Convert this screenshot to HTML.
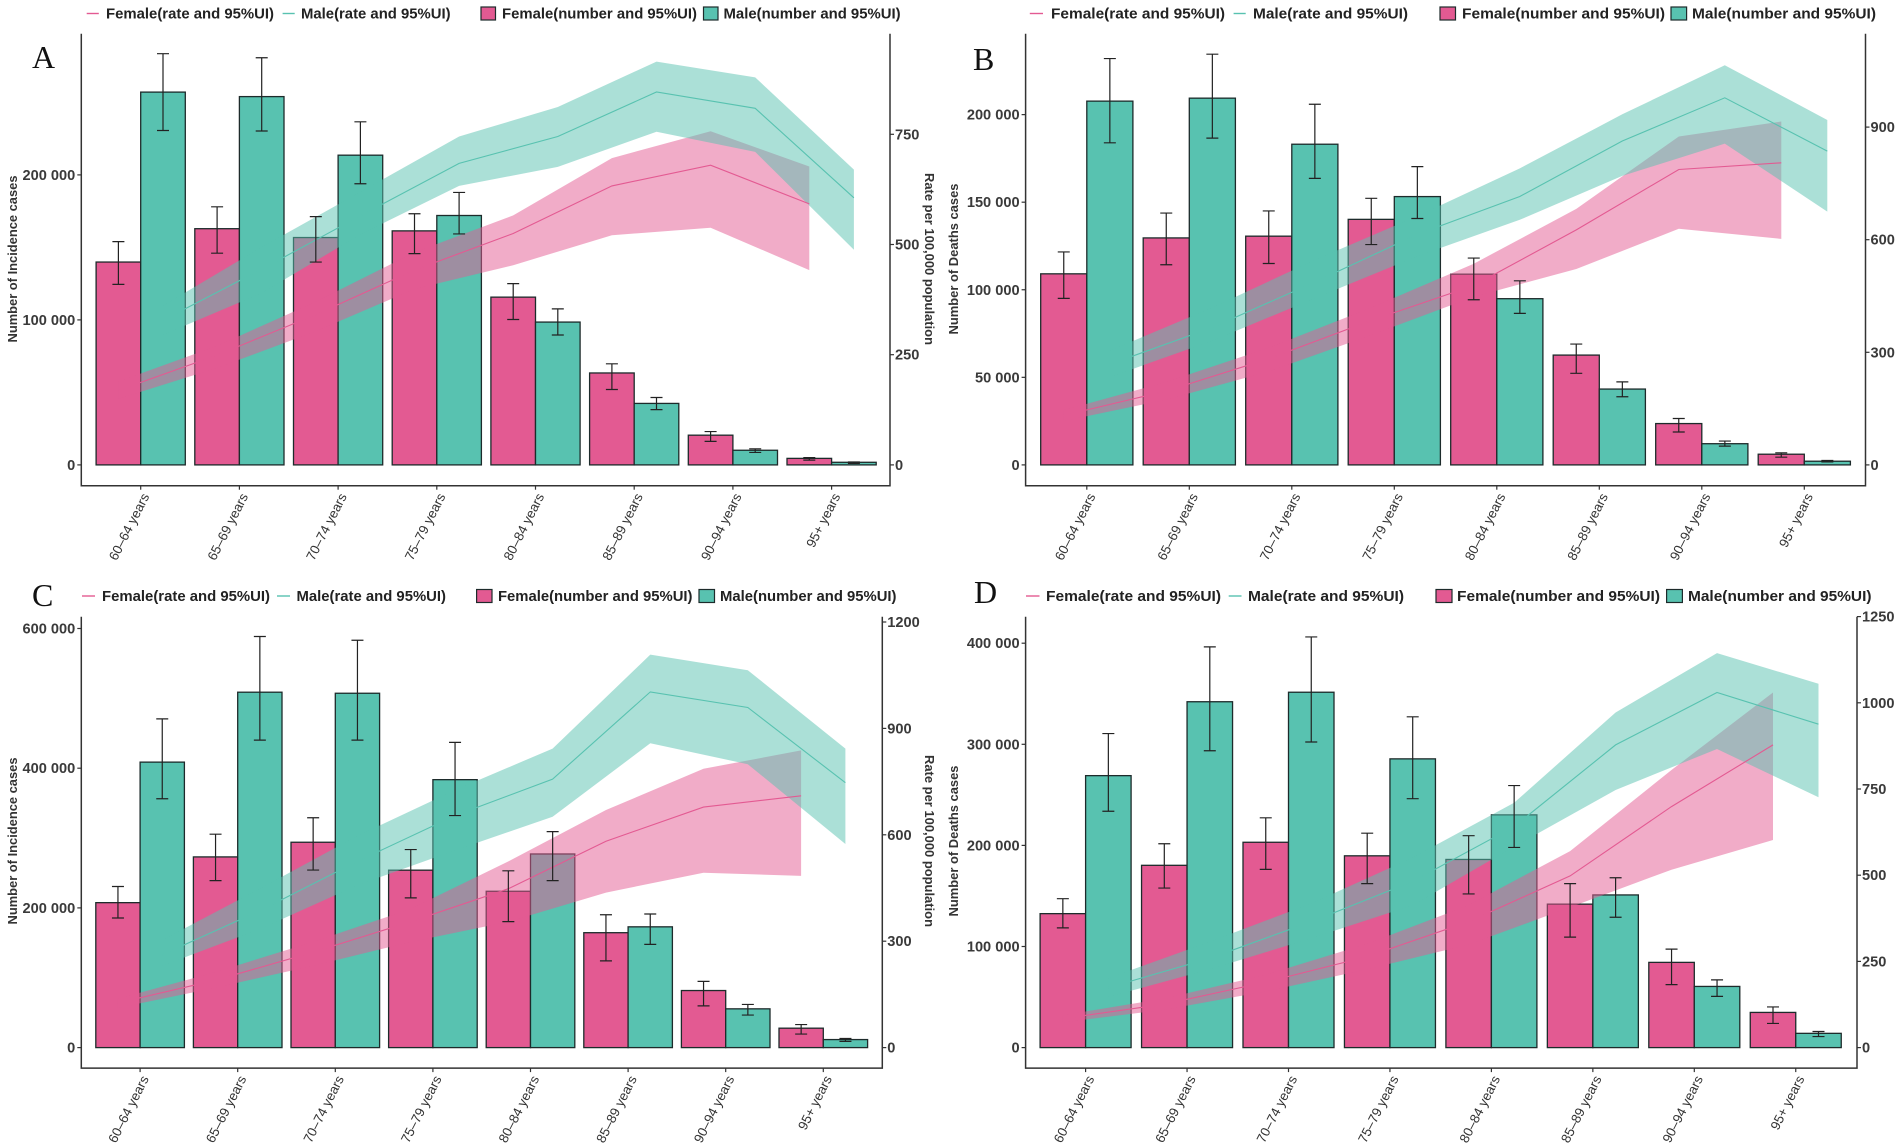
<!DOCTYPE html>
<html lang="en">
<head>
<meta charset="utf-8">
<title>Incidence and deaths by age group</title>
<style>
html,body{margin:0;padding:0;background:#fff;width:1902px;height:1148px;overflow:hidden}
svg{display:block}
text{font-family:"Liberation Sans",sans-serif}
.tick{font-size:14.6px;font-weight:700;fill:#3a3a3a}
.cat{font-size:13.3px;fill:#333}
.title{font-size:13px;font-weight:700;fill:#333}
.leg{font-size:14.8px;font-weight:700;fill:#222}
.letter{font-family:"Liberation Serif",serif;font-size:32px;fill:#111}
</style>
</head>
<body>
<svg id="figure" xmlns="http://www.w3.org/2000/svg" width="1902" height="1148" viewBox="0 0 1902 1148">
  <rect width="1902" height="1148" fill="#fff"/>
  <g id="panel-a"></g>
  <g id="panel-b"></g>
  <g id="panel-c"></g>
  <g id="panel-d"></g>
</svg>
<script>
const categories = ["60–64 years","65–69 years","70–74 years","75–79 years","80–84 years","85–89 years","90–94 years","95+ years"];

/* Panel A */
const aLeftTicks = [0,100000,200000];
const aRightTicks = [0,250,500,750];
const aFemaleNumber = [139900,162900,156800,161400,115700,63400,20500,4500];
const aFemaleNumberUpper = [154000,178000,171200,173200,125000,69700,23000,5000];
const aFemaleNumberLower = [124500,146000,139900,145700,100300,52000,16200,3300];
const aMaleNumber = [257100,254000,213600,172000,98500,42400,10100,1800];
const aMaleNumberUpper = [283600,280800,236600,187900,107600,46500,11100,2000];
const aMaleNumberLower = [230600,230300,193900,159300,89600,38100,8600,1000];
const aFemaleRate = [169,249,341,442,525,633,680,592];
const aFemaleRateUpper = [189,270,370,482,566,696,757,677];
const aFemaleRateLower = [150,220,303,399,453,521,538,442];
const aMaleRate = [328,444,565,684,745,846,809,606];
const aMaleRateUpper = [361,494,619,745,812,915,879,670];
const aMaleRateLower = [295,390,523,633,676,756,710,488];

/* Panel B */
const bLeftTicks = [0,50000,100000,150000,200000];
const bRightTicks = [0,300,600,900];
const bFemaleNumber = [109100,129600,130600,140200,108900,62700,23600,6100];
const bFemaleNumberUpper = [121600,143800,145000,152200,118100,69000,26500,6900];
const bFemaleNumberLower = [95100,114300,115000,125800,94300,52300,18800,4400];
const bMaleNumber = [207700,209400,183100,153200,94900,43300,12100,2100];
const bMaleNumberUpper = [232000,234500,205900,170300,105100,47400,13600,2500];
const bMaleNumberLower = [183900,186600,163600,140700,86500,38900,10700,1700];
const bFemaleRate = [132,197,283,385,478,626,787,805];
const bFemaleRateUpper = [146,221,312,419,536,682,875,915];
const bFemaleRateLower = [117,174,249,346,448,522,629,602];
const bMaleRate = [268,366,487,614,715,863,978,836];
const bMaleRateUpper = [304,419,546,663,790,934,1065,919];
const bMaleRateLower = [234,331,444,556,653,770,856,675];

/* Panel C */
const cLeftTicks = [0,200000,400000,600000];
const cRightTicks = [0,300,600,900,1200];
const cFemaleNumber = [207500,273000,294000,254000,223800,164500,81700,27800];
const cFemaleNumberUpper = [230600,305500,329100,283500,253100,190200,94800,33000];
const cFemaleNumberLower = [185500,239000,254200,214300,180300,124200,59700,19400];
const cMaleNumber = [408700,508800,507300,383600,277200,172900,55500,11500];
const cMaleNumberUpper = [470600,588500,583200,437000,309200,191300,61800,13100];
const cMaleNumberLower = [356300,440200,440200,332200,239000,147800,46600,8900];
const cFemaleRate = [126,190,269,355,448,582,678,710];
const cFemaleRateUpper = [138,213,298,391,525,670,786,838];
const cFemaleRateLower = [112,169,231,298,355,437,493,484];
const cMaleRate = [262,386,525,654,757,1003,959,747];
const cMaleRateUpper = [303,448,597,726,843,1108,1064,843];
const cMaleRateLower = [231,334,458,556,651,858,799,574];

/* Panel D */
const dLeftTicks = [0,100000,200000,300000,400000];
const dRightTicks = [0,250,500,750,1000,1250];
const dFemaleNumber = [132500,180300,203100,189700,186100,141900,84300,34800];
const dFemaleNumberUpper = [147300,201600,227300,212100,209600,162200,97400,40200];
const dFemaleNumberLower = [118400,157800,176300,162200,152000,109300,62300,23900];
const dMaleNumber = [269000,342100,351500,285600,230200,151000,60500,14100];
const dMaleNumberUpper = [310600,396400,406200,327200,259200,168000,67000,15900];
const dMaleNumberLower = [233800,293600,302300,246200,198000,128900,50700,10900];
const dFemaleRate = [84,126,190,264,365,498,699,878];
const dFemaleRateUpper = [94,142,211,301,413,570,805,1030];
const dFemaleRateLower = [73,110,163,227,299,407,516,602];
const dMaleRate = [174,259,365,482,641,878,1030,938];
const dMaleRateUpper = [201,307,418,551,710,972,1144,1055];
const dMaleRateLower = [147,227,317,413,583,747,866,726];

const PINK = "#E35A92", TEAL = "#58C2B0";
const SVGNS = "http://www.w3.org/2000/svg";

function make(tag, attrs, parent, txt) {
  const n = document.createElementNS(SVGNS, tag);
  for (const k in attrs) n.setAttribute(k, attrs[k]);
  if (txt !== undefined) n.textContent = txt;
  parent.appendChild(n);
  return n;
}
function formatThousands(v) {
  return String(v).replace(/\B(?=(\d{3})+$)/g, " ");
}

function drawPanel(p) {
  const g = document.getElementById(p.id);
  const catX = i => p.catStart + p.step * i;
  const femaleX = i => catX(i) - p.barW / 2;
  const maleX = i => catX(i) + p.barW / 2;
  const yLeft = v => p.zero - v * p.leftPx;
  const yRight = v => p.zero - v * p.rightPx;

  /* bars */
  const bars = [
    {key: "female", vals: p.femaleNumber, x: femaleX, fill: PINK},
    {key: "male", vals: p.maleNumber, x: maleX, fill: TEAL}
  ];
  bars.forEach(s => {
    s.vals.forEach((v, i) => {
      const bar = make("rect", {x: s.x(i) - p.barW / 2, y: yLeft(v), width: p.barW, height: p.zero - yLeft(v), fill: s.fill, stroke: "#1d2b2b", "stroke-width": 1.3}, g);
      
      
    });
  });

  /* ribbons: same hue as the bars, so each disappears over its own bars */
  const ribbons = [
    {key: "female", up: p.femaleUp, lo: p.femaleLo, x: femaleX, fill: PINK},
    {key: "male", up: p.maleUp, lo: p.maleLo, x: maleX, fill: TEAL}
  ];
  ribbons.forEach(r => {
    const pts = [];
    r.up.forEach((v, i) => pts.push(r.x(i).toFixed(1) + "," + yRight(v).toFixed(1)));
    for (let i = r.lo.length - 1; i >= 0; i--) pts.push(r.x(i).toFixed(1) + "," + yRight(r.lo[i]).toFixed(1));
    const ribbon = make("polygon", {points: pts.join(" "), fill: r.fill, "fill-opacity": 0.5}, g);
    
    
  });

  /* rate lines */
  const lines = [
    {key: "female", vals: p.femaleRate, x: femaleX, stroke: PINK},
    {key: "male", vals: p.maleRate, x: maleX, stroke: TEAL}
  ];
  lines.forEach(l => {
    const pts = l.vals.map((v, i) => l.x(i).toFixed(1) + "," + yRight(v).toFixed(1)).join(" ");
    const line = make("polyline", {points: pts, fill: "none", stroke: l.stroke, "stroke-width": 1.1}, g);
    
    
  });

  /* error bars */
  const errs = [
    {key: "female", up: p.femaleNumUp, lo: p.femaleNumLo, x: femaleX},
    {key: "male", up: p.maleNumUp, lo: p.maleNumLo, x: maleX}
  ];
  errs.forEach(e => {
    e.up.forEach((v, i) => {
      const cx = e.x(i), yu = yLeft(v), yl = yLeft(e.lo[i]);
      const d = "M" + (cx - 6) + " " + yu + "H" + (cx + 6) + "M" + cx + " " + yu + "V" + yl + "M" + (cx - 6) + " " + yl + "H" + (cx + 6);
      const err = make("path", {d: d, fill: "none", stroke: "#222", "stroke-width": 1.2}, g);
      
      
    });
  });

  /* axes */
  const axes = make("path", {d: "M" + p.left + " " + p.top + "V" + p.bottom + "H" + p.right + "V" + p.top, fill: "none", stroke: "#333", "stroke-width": 1.5}, g);
  
  

  p.leftTicks.forEach(v => {
    const mark = make("line", {x1: p.left - 4, x2: p.left, y1: yLeft(v), y2: yLeft(v), stroke: "#333", "stroke-width": 1.2}, g);
    
    
    const label = make("text", {x: p.left - 6, y: yLeft(v) + 5, "text-anchor": "end", class: "tick"}, g, formatThousands(v));
    
    
  });
  p.rightTicks.forEach(v => {
    const mark = make("line", {x1: p.right, x2: p.right + 4, y1: yRight(v), y2: yRight(v), stroke: "#333", "stroke-width": 1.2}, g);
    
    
    const label = make("text", {x: p.right + 5, y: yRight(v) + 5, class: "tick"}, g, String(v));
    
    
  });
  categories.forEach((c, i) => {
    const mark = make("line", {x1: catX(i), x2: catX(i), y1: p.bottom, y2: p.bottom + 4, stroke: "#333", "stroke-width": 1.2}, g);
    
    
    const ax = catX(i) + 9, ay = p.bottom + 10.5;
    const label = make("text", {x: ax, y: ay, "text-anchor": "end", transform: "rotate(-63 " + ax + " " + ay + ")", class: "cat"}, g, c);
    
    
  });

  /* axis titles */
  const yt = make("text", {x: p.titleX, y: p.titleY, "text-anchor": "middle", transform: "rotate(-90 " + p.titleX + " " + p.titleY + ")", class: "title", textLength: p.titleLen, lengthAdjust: "spacingAndGlyphs"}, g, p.yTitle);
  
  
  if (p.rightTitleX) {
    const rt = make("text", {x: p.rightTitleX, y: p.titleY, "text-anchor": "middle", transform: "rotate(90 " + p.rightTitleX + " " + p.titleY + ")", class: "title", textLength: 172, lengthAdjust: "spacingAndGlyphs"}, g, "Rate per 100,000 population");
    
    
  }

  /* panel letter */
  const letter = make("text", {x: p.letterX, y: p.letterY, class: "letter"}, g, p.letter);
  
  

  /* legend */
  const L = p.legend, ly = L.y;
  const names = ["Female(rate and 95%UI)", "Male(rate and 95%UI)", "Female(number and 95%UI)", "Male(number and 95%UI)"];
  const colors = [PINK, TEAL, PINK, TEAL];
  L.items.forEach((it, k) => {
    if (k < 2) {
      const key = make("line", {x1: it[0], x2: it[1], y1: ly, y2: ly, stroke: colors[k], "stroke-width": 1.4}, g);
      
      
    } else {
      const key = make("rect", {x: it[0], y: ly - 6.5, width: it[1] - it[0], height: 13, fill: colors[k], stroke: "#1d2b2b", "stroke-width": 1.2}, g);
      
      
    }
    const label = make("text", {x: it[2], y: ly + 5, class: "leg", textLength: it[3] - it[2], lengthAdjust: "spacingAndGlyphs"}, g, names[k]);
    
    
  });
}

drawPanel({
  id: "panel-a", letter: "A", letterX: 32, letterY: 68,
  left: 81.3, right: 890, top: 33.7, bottom: 485.7, zero: 464.9,
  catStart: 140.7, step: 98.7, barW: 44.6,
  leftPx: 145 / 100000, rightPx: 110.2 / 250,
  leftTicks: aLeftTicks, rightTicks: aRightTicks,
  femaleNumber: aFemaleNumber, femaleNumUp: aFemaleNumberUpper, femaleNumLo: aFemaleNumberLower,
  maleNumber: aMaleNumber, maleNumUp: aMaleNumberUpper, maleNumLo: aMaleNumberLower,
  femaleRate: aFemaleRate, femaleUp: aFemaleRateUpper, femaleLo: aFemaleRateLower,
  maleRate: aMaleRate, maleUp: aMaleRateUpper, maleLo: aMaleRateLower,
  yTitle: "Number of Incidence cases", titleX: 17, titleY: 259, titleLen: 167, rightTitleX: 925,
  legend: {y: 13.5, items: [[86.7, 98.8, 106, 274], [282.6, 294.7, 301, 450.6], [481, 495.5, 502, 697], [703.5, 718, 723.5, 900.6]]}
});
drawPanel({
  id: "panel-b", letter: "B", letterX: 973, letterY: 70,
  left: 1025.6, right: 1865.5, top: 33.7, bottom: 485.7, zero: 464.9,
  catStart: 1086.8, step: 102.5, barW: 46.1,
  leftPx: 87.57 / 50000, rightPx: 112.6 / 300,
  leftTicks: bLeftTicks, rightTicks: bRightTicks,
  femaleNumber: bFemaleNumber, femaleNumUp: bFemaleNumberUpper, femaleNumLo: bFemaleNumberLower,
  maleNumber: bMaleNumber, maleNumUp: bMaleNumberUpper, maleNumLo: bMaleNumberLower,
  femaleRate: bFemaleRate, femaleUp: bFemaleRateUpper, femaleLo: bFemaleRateLower,
  maleRate: bMaleRate, maleUp: bMaleRateUpper, maleLo: bMaleRateLower,
  yTitle: "Number of Deaths cases", titleX: 958, titleY: 259, titleLen: 151,
  legend: {y: 13.5, items: [[1029.8, 1043, 1051, 1225], [1233.6, 1245.7, 1253, 1408], [1440, 1455.5, 1462, 1665], [1671, 1686.6, 1692, 1876]]}
});
drawPanel({
  id: "panel-c", letter: "C", letterX: 32, letterY: 606,
  left: 81.3, right: 882.3, top: 616.8, bottom: 1068.1, zero: 1047.6,
  catStart: 140.1, step: 97.6, barW: 44.3,
  leftPx: 139.7 / 200000, rightPx: 106.4 / 300,
  leftTicks: cLeftTicks, rightTicks: cRightTicks,
  femaleNumber: cFemaleNumber, femaleNumUp: cFemaleNumberUpper, femaleNumLo: cFemaleNumberLower,
  maleNumber: cMaleNumber, maleNumUp: cMaleNumberUpper, maleNumLo: cMaleNumberLower,
  femaleRate: cFemaleRate, femaleUp: cFemaleRateUpper, femaleLo: cFemaleRateLower,
  maleRate: cMaleRate, maleUp: cMaleRateUpper, maleLo: cMaleRateLower,
  yTitle: "Number of Incidence cases", titleX: 17, titleY: 841, titleLen: 167, rightTitleX: 925,
  legend: {y: 596, items: [[82, 95, 102, 270], [277, 290, 296.5, 446], [476.6, 492, 498, 692.5], [699, 714.5, 720, 896.5]]}
});
drawPanel({
  id: "panel-d", letter: "D", letterX: 974, letterY: 603,
  left: 1025.6, right: 1857, top: 616.8, bottom: 1068.1, zero: 1047.6,
  catStart: 1085.6, step: 101.45, barW: 45.5,
  leftPx: 101.1 / 100000, rightPx: 86.2 / 250,
  leftTicks: dLeftTicks, rightTicks: dRightTicks,
  femaleNumber: dFemaleNumber, femaleNumUp: dFemaleNumberUpper, femaleNumLo: dFemaleNumberLower,
  maleNumber: dMaleNumber, maleNumUp: dMaleNumberUpper, maleNumLo: dMaleNumberLower,
  femaleRate: dFemaleRate, femaleUp: dFemaleRateUpper, femaleLo: dFemaleRateLower,
  maleRate: dMaleRate, maleUp: dMaleRateUpper, maleLo: dMaleRateLower,
  yTitle: "Number of Deaths cases", titleX: 958, titleY: 841, titleLen: 151,
  legend: {y: 596, items: [[1026, 1039.5, 1046, 1221], [1228.7, 1241.5, 1248, 1404], [1436, 1452, 1457, 1660], [1666.6, 1682.4, 1688, 1871.5]]}
});
</script>
</body>
</html>
